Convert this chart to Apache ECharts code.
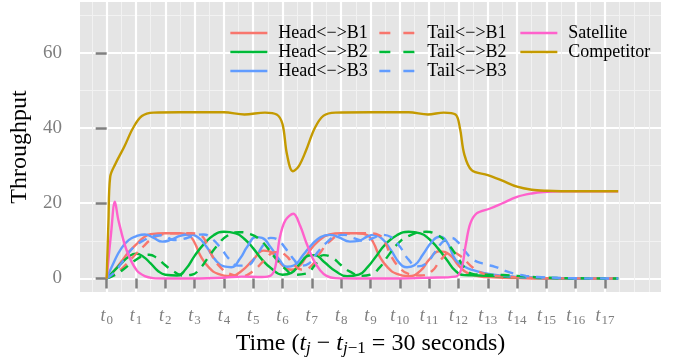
<!DOCTYPE html>
<html style="height: 100%">
<head>
    <meta charset="utf-8">
    <title>Throughput</title>
    <script type="text/javascript" src="https://cdn.jsdelivr.net/npm/echarts@6/dist/echarts.min.js"></script>
</head>
<body style="height: 100%; margin: 0; background: #fff">
    <div id="container" style="width: 677px; height: 358px"></div>
    <script type="text/javascript">
        // tick positions (t index) and grid lines
        var xTicks = [0, 1, 2, 3, 4, 5, 6, 7, 8, 9, 10, 11, 12, 13, 14, 15, 16, 17];
        var xMinor = [-0.5, 0.5, 1.5, 2.5, 3.5, 4.5, 5.5, 6.5, 7.5, 8.5, 9.5, 10.5, 11.5, 12.5, 13.5, 14.5, 15.5, 16.5, 17.5, 18, 18.5];
        var yTicks = [0, 20, 40, 60];
        var yMinor = [10, 30, 50, 70];

        // [t, throughput]
        var headB1 = [[0, 0], [0.25, 2], [0.5, 4.5], [0.75, 7], [1, 9], [1.25, 10.8], [1.5, 11.8], [2, 12], [2.5, 12], [2.8, 11.5], [3.0, 9.5], [3.2, 6], [3.5, 2.8], [3.8, 1.2], [4.2, 0.6], [4.6, 2], [5.0, 5], [5.35, 7.4], [5.7, 6.5], [6.0, 3.5], [6.3, 2.3], [6.6, 3.5], [6.9, 7], [7.2, 9.8], [7.6, 11.7], [8.0, 12], [8.6, 12], [8.9, 11.5], [9.1, 9.5], [9.3, 6], [9.6, 2.8], [9.9, 1.2], [10.3, 0.6], [10.7, 2], [11.0, 5], [11.35, 7.2], [11.7, 6.3], [12.0, 3.5], [12.3, 1.5], [12.7, 0.6], [13.2, 0.3], [14, 0.1], [15, 0], [17.45, 0]];
        var headB2 = [[0, 0], [0.25, 2], [0.5, 4], [0.75, 5.8], [1.0, 6.6], [1.25, 5.8], [1.5, 4], [1.75, 2], [2.0, 1], [2.4, 0.8], [2.7, 2.5], [3.0, 6], [3.3, 9], [3.65, 11.5], [4.0, 12.4], [4.4, 12], [4.7, 10.5], [5.0, 8], [5.3, 5], [5.6, 2.8], [6.0, 1], [6.3, 1.5], [6.6, 4], [6.9, 6.1], [7.1, 6.2], [7.4, 4.5], [7.8, 2], [8.2, 0.6], [8.6, 1], [8.9, 3], [9.2, 6], [9.5, 9], [9.9, 11.5], [10.3, 12.4], [10.7, 12], [11.0, 10.5], [11.3, 8], [11.6, 5], [11.9, 2], [12.2, 0.9], [12.7, 0.8], [13.3, 0.6], [14, 0.3], [15, 0.1], [16, 0], [17.45, 0]];
        var headB3 = [[0, 0], [0.25, 4.4], [0.5, 8], [0.75, 10.2], [1.0, 11.2], [1.3, 11.7], [1.6, 10.8], [1.9, 9.8], [2.2, 10.3], [2.5, 11.3], [2.8, 11.7], [3.1, 11], [3.4, 8.5], [3.7, 5], [4.0, 3.2], [4.25, 3], [4.55, 5.3], [4.8, 8.5], [5.1, 11], [5.3, 10.8], [5.6, 8.2], [5.9, 4.9], [6.15, 3.1], [6.4, 3.5], [6.7, 6.2], [7.0, 9], [7.3, 11], [7.6, 11.6], [7.9, 11], [8.3, 9.8], [8.6, 10], [8.9, 11.2], [9.1, 11.6], [9.4, 10.5], [9.7, 7.5], [10.0, 4], [10.25, 3], [10.5, 3.5], [10.8, 6.5], [11.1, 9.8], [11.35, 11.1], [11.6, 9.8], [11.9, 5], [12.2, 3.2], [12.5, 2.2], [12.9, 1.4], [13.4, 0.8], [14, 0.4], [15, 0.1], [16, 0], [17.45, 0]];
        var tailB1 = [[0, 0], [0.25, 1], [0.5, 2.5], [0.75, 4.5], [1, 6.5], [1.25, 8.5], [1.5, 10.3], [1.8, 11.5], [2.2, 12], [2.9, 12], [3.2, 11.5], [3.4, 9.5], [3.6, 6], [3.9, 2.8], [4.2, 1.2], [4.6, 0.6], [5.0, 2], [5.4, 5], [5.75, 7], [6.1, 6.2], [6.4, 3.5], [6.7, 2.3], [7.0, 3.5], [7.3, 7], [7.6, 9.8], [8.0, 11.7], [8.4, 12], [9.0, 12], [9.3, 11.5], [9.5, 9.5], [9.7, 6], [10.0, 2.8], [10.3, 1.2], [10.7, 0.8], [11.1, 2], [11.4, 5], [11.75, 7], [12.1, 5.8], [12.4, 3.5], [12.7, 1.8], [13.1, 0.9], [13.6, 0.5], [14.3, 0.2], [15, 0.05], [17.45, 0]];
        var tailB2 = [[0, 0], [0.25, 0.8], [0.5, 2], [0.75, 3.5], [1.0, 5], [1.25, 6], [1.45, 6.3], [1.7, 5.5], [2.0, 3.5], [2.3, 1.8], [2.6, 0.8], [2.9, 1], [3.2, 2.8], [3.5, 6], [3.8, 9], [4.1, 11.3], [4.5, 12.3], [4.9, 11.8], [5.2, 10.5], [5.5, 8], [5.8, 5], [6.1, 2.5], [6.4, 1], [6.8, 1.3], [7.1, 3.5], [7.4, 6.2], [7.7, 5.5], [8.0, 3.5], [8.3, 1.8], [8.7, 0.7], [9.0, 1], [9.3, 2.8], [9.6, 6], [9.9, 9], [10.3, 11.3], [10.9, 12.4], [11.3, 11.5], [11.6, 9.5], [11.9, 6.5], [12.2, 3], [12.45, 1.3], [12.8, 1], [13.5, 0.9], [14, 0.7], [14.5, 0.4], [15, 0.2], [16, 0.05], [17.45, 0]];
        var tailB3 = [[0, 0], [0.25, 1.5], [0.5, 4], [0.75, 6.8], [1.0, 8.8], [1.3, 10.3], [1.6, 11.3], [1.9, 11.5], [2.3, 10.2], [2.6, 10.5], [3.0, 11.4], [3.3, 11.7], [3.6, 10.5], [3.9, 8], [4.2, 5], [4.5, 3.4], [4.8, 3.5], [5.1, 6], [5.4, 9.5], [5.6, 10.8], [5.8, 10.5], [6.1, 8], [6.4, 4.9], [6.6, 3.4], [6.9, 4], [7.2, 7], [7.5, 9.5], [7.8, 11.2], [8.1, 11.6], [8.4, 10.8], [8.8, 10], [9.1, 10.8], [9.4, 11.6], [9.7, 11], [10.0, 8.5], [10.3, 5], [10.6, 3.2], [10.9, 4], [11.2, 7], [11.5, 10], [11.75, 10.8], [12.0, 9.5], [12.25, 7], [12.5, 5], [12.9, 3.8], [13.25, 3.1], [13.6, 2], [13.9, 1.3], [14.3, 0.7], [14.7, 0.4], [15.3, 0.2], [16, 0.05], [17.45, 0]];
        var satellite = [[0, 0], [0.15, 12], [0.28, 20.4], [0.4, 15.5], [0.68, 7.5], [1.02, 2.2], [1.3, 0.6], [1.58, 0.1], [2, 0], [3, 0], [4, 0.2], [4.6, 0.5], [5.3, 0.4], [5.6, 0.8], [5.75, 3], [5.91, 11], [6.1, 15.5], [6.37, 17.2], [6.6, 14], [6.82, 9.3], [7.05, 5], [7.28, 2.2], [7.5, 0.7], [7.8, 0.1], [8.5, 0], [10, 0], [11, 0.2], [11.9, 0.5], [12.1, 2.5], [12.25, 9], [12.4, 14.5], [12.62, 17.3], [13.08, 18.6], [13.5, 20], [14, 21.7], [14.5, 22.6], [14.9, 23], [15.5, 23.2], [17.45, 23.2]];
        var competitor = [[0, 0], [0.06, 15], [0.12, 27], [0.3, 30.5], [0.6, 35], [0.9, 40], [1.2, 43.2], [1.6, 44.1], [2.5, 44.2], [4, 44.2], [4.7, 43.6], [5.4, 44.1], [5.8, 43.6], [6.0, 41], [6.15, 33], [6.35, 28.5], [6.55, 29.8], [6.8, 34], [7.1, 40], [7.4, 43.3], [7.8, 44.1], [9, 44.2], [10.3, 44.2], [10.96, 43.6], [11.5, 44.1], [11.9, 43.6], [12.05, 40], [12.2, 33], [12.45, 28.8], [13, 27.5], [13.5, 26], [14, 24.4], [14.5, 23.6], [15, 23.3], [15.5, 23.2], [17.45, 23.2]];

        var names = ['Head<\u2212>B1', 'Head<\u2212>B2', 'Head<\u2212>B3', 'Tail<\u2212>B1', 'Tail<\u2212>B2', 'Tail<\u2212>B3', 'Satellite', 'Competitor'];
        var colors = ['#F8766D', '#00BA38', '#619CFF', '#F8766D', '#00BA38', '#619CFF', '#FF61CC', '#C49A00'];
        var dataList = [headB1, headB2, headB3, tailB1, tailB2, tailB3, satellite, competitor];

        var serif = 'Liberation Serif';
        var grey = '#7f7f7f';

        var series = [];
        for (var i = 0; i < names.length; i++) {
            series.push({
                name: names[i],
                type: 'line',
                xAxisIndex: 1,
                yAxisIndex: 1,
                data: dataList[i],
                smooth: i >= 6 ? 0.35 : true,
                symbol: 'none',
                color: colors[i],
                lineStyle: {
                    color: colors[i],
                    width: 2.4,
                    type: (i >= 3 && i <= 5) ? [9, 7] : 'solid'
                }
            });
        }

        function legendAt(left, items, dash) {
            var lg = {
                left: left,
                top: 23.5,
                orient: 'vertical',
                padding: 0,
                itemGap: 0,
                itemWidth: 37,
                itemHeight: 19,
                data: items,
                // hide the circle that line series put on their legend key
                itemStyle: { opacity: 0, color: 'transparent', borderColor: 'transparent', borderWidth: 0 },
                lineStyle: { width: 2.7 },
                textStyle: {
                    fontFamily: serif,
                    fontSize: 18,
                    color: '#000',
                    lineHeight: 19,
                    padding: [0, 0, 0, 6]
                }
            };
            if (dash) lg.lineStyle.type = dash;
            return lg;
        }

        var tickRich = {
            t: { fontFamily: serif, fontSize: 18, fontStyle: 'italic', color: grey },
            s: { fontFamily: serif, fontSize: 13, color: grey, padding: [8, 0, 0, 1] }
        };

        var dom = document.getElementById('container');
        var myChart = echarts.init(dom, null, { renderer: 'canvas' });
        var option = {
            animation: false,
            backgroundColor: '#fff',
            grid: {
                left: 80,
                top: 2,
                width: 581,
                height: 290,
                containLabel: false,
                outerBoundsMode: 'none',
                show: true,
                backgroundColor: '#E5E5E5',
                borderWidth: 0
            },
            legend: [
                legendAt(229, names.slice(0, 3)),
                legendAt(378, names.slice(3, 6), [11, 13]),
                legendAt(519, names.slice(6, 8))
            ],
            xAxis: [
                {
                    // minor grid lines
                    type: 'value',
                    min: -0.91,
                    max: 18.91,
                    position: 'bottom',
                    axisLine: { show: false },
                    axisTick: { show: false, customValues: xMinor },
                    axisLabel: { show: false, customValues: xMinor },
                    splitLine: { show: true, lineStyle: { color: '#F2F2F2', width: 1 } }
                },
                {
                    type: 'value',
                    min: -0.91,
                    max: 18.91,
                    position: 'bottom',
                    axisLine: { show: false },
                    axisTick: {
                        show: true,
                        customValues: xTicks,
                        length: 10,
                        lineStyle: { color: grey, width: 2.5 }
                    },
                    axisLabel: {
                        customValues: xTicks,
                        margin: 14,
                        formatter: function (v) {
                            return '{t|t}{s|' + v + '}';
                        },
                        rich: tickRich
                    },
                    splitLine: { show: true, lineStyle: { color: '#fff', width: 2.2 } },
                    name: '{a|Time (}{i|t}{s|j}{a| \u2212 }{i|t}{s|j}{u|\u22121}{a| = 30 seconds)}',
                    nameLocation: 'middle',
                    nameGap: 36,
                    nameTextStyle: {
                        rich: {
                            a: { fontFamily: serif, fontSize: 24, color: '#000' },
                            i: { fontFamily: serif, fontSize: 24, fontStyle: 'italic', color: '#000' },
                            s: { fontFamily: serif, fontSize: 17, fontStyle: 'italic', color: '#000', padding: [10, 0, 0, 0] },
                            u: { fontFamily: serif, fontSize: 17, color: '#000', padding: [10, 0, 0, 0] }
                        }
                    }
                }
            ],
            yAxis: [
                {
                    type: 'value',
                    min: -3.6,
                    max: 73.5,
                    axisLine: { show: false },
                    axisTick: { show: false, customValues: yMinor },
                    axisLabel: { show: false, customValues: yMinor },
                    splitLine: { show: true, lineStyle: { color: '#F2F2F2', width: 1 } }
                },
                {
                    type: 'value',
                    min: -3.6,
                    max: 73.5,
                    position: 'left',
                    axisLine: { show: false },
                    axisTick: {
                        show: true,
                        customValues: yTicks,
                        length: 11,
                        lineStyle: { color: grey, width: 2.5 }
                    },
                    axisLabel: {
                        customValues: yTicks,
                        margin: 18,
                        fontFamily: serif,
                        fontSize: 19,
                        color: grey
                    },
                    splitLine: { show: true, lineStyle: { color: '#fff', width: 2.2 } },
                    name: 'Throughput',
                    nameLocation: 'middle',
                    nameGap: 43,
                    nameRotate: 90,
                    nameTextStyle: { fontFamily: serif, fontSize: 24, color: '#000' }
                }
            ],
            series: series
        };
        myChart.setOption(option);
    </script>
</body>
</html>
